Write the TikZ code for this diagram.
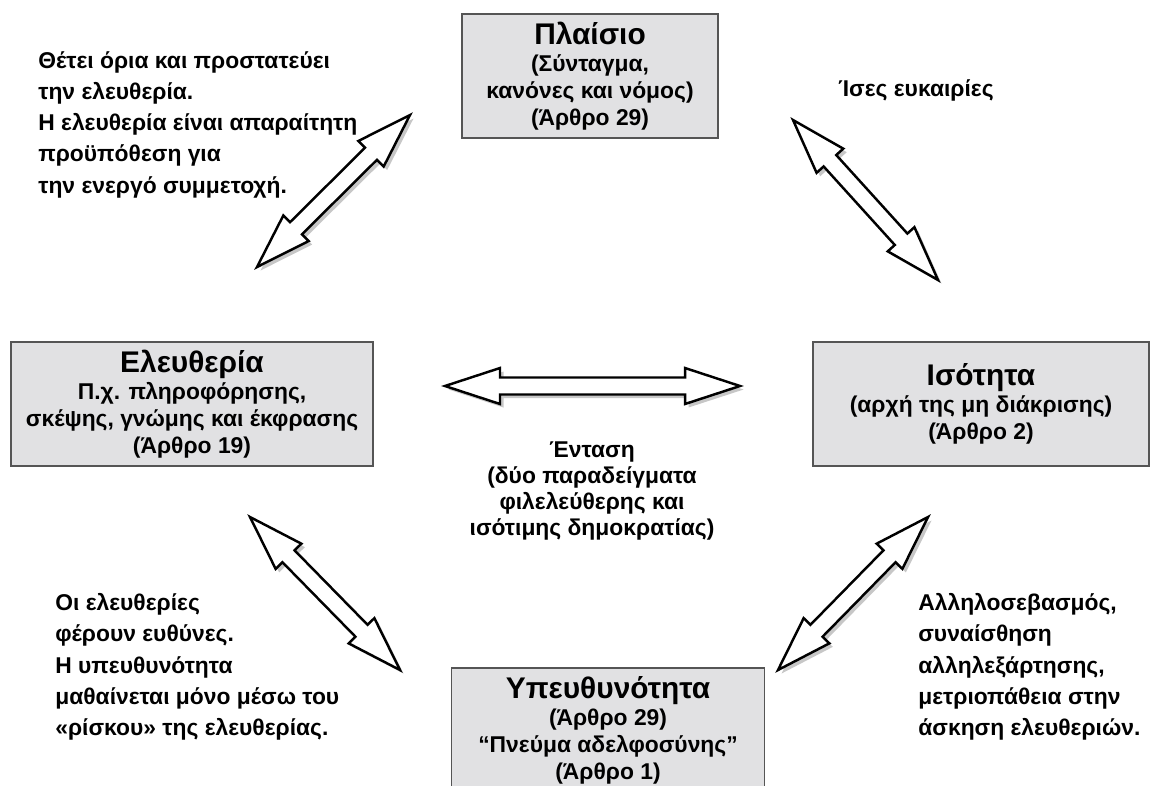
\documentclass[tikz,border=0pt]{standalone}
\usepackage{fontspec}
\setmainfont{Liberation Sans}
\usetikzlibrary{calc,shadows}
\definecolor{boxgray}{RGB}{225,225,227}
\definecolor{edgegray}{RGB}{85,85,85}
\newcommand\boxtitle[1]{{\fontsize{17}{19}\selectfont #1}}

\begin{document}
\begin{tikzpicture}[x=0.02cm, y=-0.02cm,
  font=\bfseries\fontsize{13}{15.4}\selectfont,
  box/.style={draw=edgegray, fill=boxgray, line width=0.9pt, align=center, inner sep=0pt,
    minimum height=2.48cm},
  note/.style={align=left, anchor=north west, inner sep=0pt,
    font=\bfseries\fontsize{13}{17.8}\selectfont},
  dblarrow/.style={draw=black, fill=white, line width=1.4pt, line join=miter,
    drop shadow={shadow xshift=2pt, shadow yshift=-2pt, fill=black, opacity=0.22},
    to path={
      -- ($(\tikztostart)!1.1cm!(\tikztotarget)!0.36cm!90:(\tikztotarget)$)
      -- ($(\tikztostart)!1.1cm!(\tikztotarget)!0.17cm!90:(\tikztotarget)$)
      -- ($(\tikztotarget)!1.1cm!(\tikztostart)!0.17cm!-90:(\tikztostart)$)
      -- ($(\tikztotarget)!1.1cm!(\tikztostart)!0.36cm!-90:(\tikztostart)$)
      -- (\tikztotarget)
      -- ($(\tikztotarget)!1.1cm!(\tikztostart)!0.36cm!90:(\tikztostart)$)
      -- ($(\tikztotarget)!1.1cm!(\tikztostart)!0.17cm!90:(\tikztostart)$)
      -- ($(\tikztostart)!1.1cm!(\tikztotarget)!0.17cm!-90:(\tikztotarget)$)
      -- ($(\tikztostart)!1.1cm!(\tikztotarget)!0.36cm!-90:(\tikztotarget)$)
      -- cycle}}]
\useasboundingbox (0,0) rectangle (1151,785);

\node[box, minimum width=5.12cm] (plaisio) at (590,76)
  {\boxtitle{Πλαίσιο}\\(Σύνταγμα,\\κανόνες και νόμος)\\(Άρθρο 29)};
\node[box, minimum width=7.24cm] (eleftheria) at (192,404)
  {\boxtitle{Ελευθερία}\\Π.χ. πληροφόρησης,\\σκέψης, γνώμης και έκφρασης\\(Άρθρο 19)};
\node[box, minimum width=6.72cm] (isotita) at (981,404)
  {\boxtitle{Ισότητα}\\(αρχή της μη διάκρισης)\\(Άρθρο 2)};
\node[box, minimum width=6.26cm] (ypeuth) at (608,730)
  {\boxtitle{Υπευθυνότητα}\\(Άρθρο 29)\\“Πνεύμα αδελφοσύνης”\\(Άρθρο 1)};

\node[note] (limits) at (38,51)
  {Θέτει όρια και προστατεύει\\την ελευθερία.\\Η ελευθερία είναι απαραίτητη\\προϋπόθεση για\\την ενεργό συμμετοχή.};
\node[note] (chances) at (838,79) {Ίσες ευκαιρίες};
\node[align=center, inner sep=0pt, font=\bfseries\fontsize{13}{14.8}\selectfont] (tension) at (592,491)
  {Ένταση\\(δύο παραδείγματα\\φιλελεύθερης και\\ισότιμης δημοκρατίας)};
\node[note] (duties) at (55,593)
  {Οι ελευθερίες\\φέρουν ευθύνες.\\Η υπευθυνότητα\\μαθαίνεται μόνο μέσω του\\«ρίσκου» της ελευθερίας.};
\node[note] (respect) at (918,593)
  {Αλληλοσεβασμός,\\συναίσθηση\\αλληλεξάρτησης,\\μετριοπάθεια στην\\άσκηση ελευθεριών.};

\coordinate (tl1) at (257,267); \coordinate (tl2) at (410,115);
\coordinate (tr1) at (793,120); \coordinate (tr2) at (938,280);
\coordinate (mid1) at (445,386); \coordinate (mid2) at (740,386);
\coordinate (bl1) at (250,517); \coordinate (bl2) at (400,670);
\coordinate (br1) at (778,670); \coordinate (br2) at (928,517);

\draw[dblarrow] (tl1) to (tl2);
\draw[dblarrow] (tr1) to (tr2);
\draw[dblarrow] (mid1) to (mid2);
\draw[dblarrow] (bl1) to (bl2);
\draw[dblarrow] (br1) to (br2);
\end{tikzpicture}
\end{document}
